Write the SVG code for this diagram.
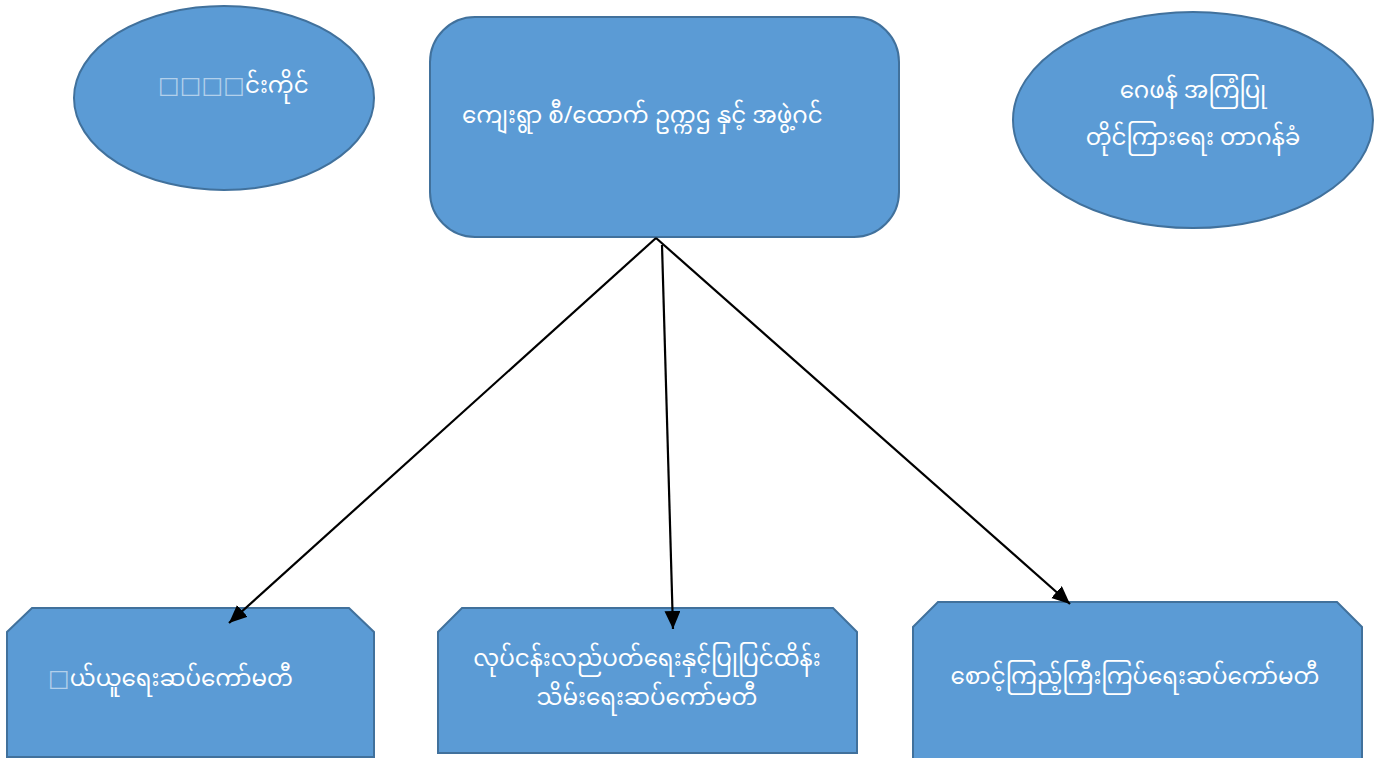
<svg xmlns="http://www.w3.org/2000/svg" width="1380" height="758" viewBox="0 0 1380 758">
<style>
.shape{fill:#5B9BD5;stroke:#41719C;stroke-width:2}
.t{font-family:"Noto Sans Myanmar","Myanmar Text","Padauk","Noto Sans","DejaVu Sans",sans-serif;font-size:23px;fill:#ffffff}
.tofu{fill:#ffffff;fill-opacity:0.55}
.c{stroke:#000;stroke-width:2.2;fill:none}
</style>
<defs>
<marker id="ah" markerUnits="userSpaceOnUse" markerWidth="20" markerHeight="18" refX="18" refY="8" orient="auto">
<path d="M0,0 L18,8 L0,16 Z" fill="#000"/>
</marker>
</defs>
<rect width="1380" height="758" fill="#ffffff"/>
<g id="node-left-ellipse">
<ellipse class="shape" cx="224" cy="98" rx="150" ry="92"/>
<text class="t" x="158" y="93"><tspan class="tofu">□□□□</tspan>င်းကိုင်</text>
</g>
<g id="node-top">
<rect class="shape" x="430" y="17" width="469" height="220" rx="45" ry="45"/>
<text class="t" x="462" y="123">ကျေးရွာ စီ/ထောက် ဥက္ကဌ နှင့် အဖွဲ့ဂင်</text>
</g>
<g id="node-right-ellipse">
<ellipse class="shape" cx="1193" cy="120" rx="180" ry="108"/>
<text class="t" x="1193" y="98" text-anchor="middle">ဂေဖန် အကြံပြု</text>
<text class="t" x="1193" y="145" text-anchor="middle">တိုင်ကြားရေး တာဂန်ခံ</text>
</g>
<g id="node-box1">
<path class="shape" d="M32,608 L349,608 L374,632 L374,757 L7,757 L7,632 Z"/>
<text class="t" x="48" y="686"><tspan class="tofu">□</tspan>ယ်ယူရေးဆပ်ကော်မတီ</text>
</g>
<g id="node-box2">
<path class="shape" d="M462,608 L833,608 L857,632 L857,753 L438,753 L438,632 Z"/>
<text class="t" x="647" y="666" text-anchor="middle">လုပ်ငန်းလည်ပတ်ရေးနှင့်ပြုပြင်ထိန်း</text>
<text class="t" x="647" y="705" text-anchor="middle">သိမ်းရေးဆပ်ကော်မတီ</text>
</g>
<g id="node-box3">
<path class="shape" d="M938,602 L1337,602 L1362,627 L1362,760 L913,760 L913,627 Z"/>
<text class="t" x="1135" y="684" text-anchor="middle">စောင့်ကြည့်ကြီးကြပ်ရေးဆပ်ကော်မတီ</text>
</g>
<g id="connectors">
<line class="c" x1="656" y1="238" x2="229" y2="623" marker-end="url(#ah)"/>
<line class="c" x1="662" y1="245" x2="673" y2="629" marker-end="url(#ah)"/>
<line class="c" x1="656" y1="238" x2="1070" y2="604" marker-end="url(#ah)"/>
</g>
</svg>
